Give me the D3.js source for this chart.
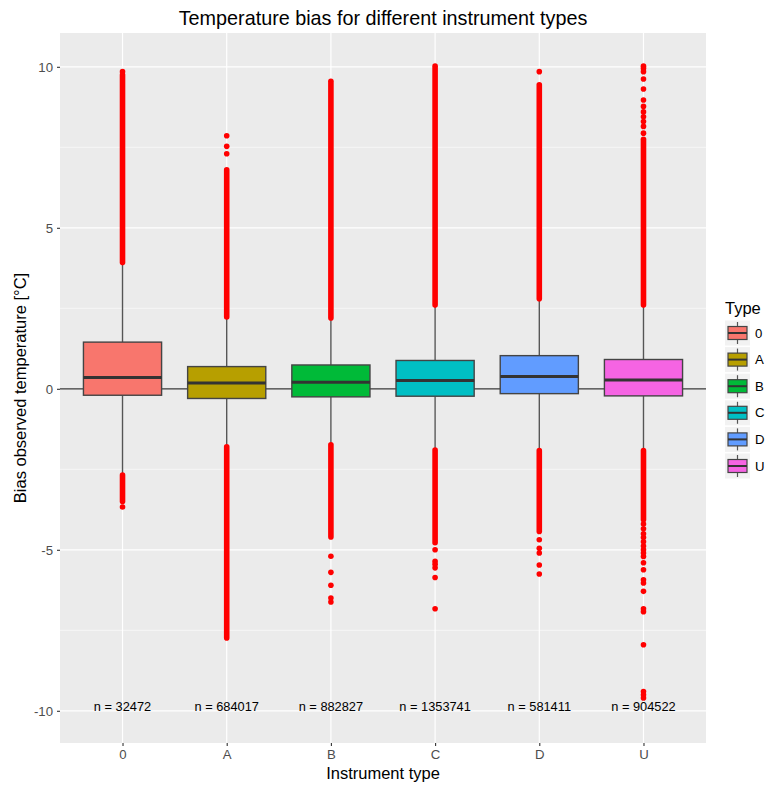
<!DOCTYPE html>
<html><head><meta charset="utf-8">
<script src="https://cdn.jsdelivr.net/npm/d3@7"></script>
<style>body{margin:0;background:#fff}svg{display:block}text{font-family:"Liberation Sans",Arial,sans-serif}</style>
</head><body>
<script>
// ---- data ----
const categories = ["0","A","B","C","D","U"];
const colors = ["#F8766D","#B79F00","#00BA38","#00BFC4","#619CFF","#F564E3"];
const q1 = [-0.20,-0.30,-0.25,-0.23,-0.15,-0.22];
const medians = [0.35,0.18,0.20,0.26,0.38,0.27];
const q3 = [1.45,0.69,0.74,0.88,1.03,0.91];
const whiskerLow = [-2.62,-1.76,-1.70,-1.87,-1.87,-1.87];
const whiskerHigh = [3.85,2.20,2.15,2.56,2.76,2.56];
const counts = ["32472","684017","882827","1353741","581411","904522"];
// dense runs of outliers [from, to] per category
const denseOutliers = [
  [[3.92,9.75],[-3.50,-2.68]],
  [[2.23,6.80],[-7.74,-1.80]],
  [[2.20,9.55],[-4.60,-1.74]],
  [[2.60,10.02],[-4.78,-1.90]],
  [[2.80,9.44],[-4.43,-1.92]],
  [[2.60,7.75],[-4.07,-1.92]]
];
// isolated outlier points per category
const sparseOutliers = [
  [9.85,-3.67],
  [7.86,7.53,7.30],
  [-5.20,-5.70,-6.10,-6.50,-6.62],
  [-5.00,-5.36,-5.45,-5.56,-5.86,-6.83],
  [9.85,-4.69,-4.95,-5.10,-5.47,-5.75],
  [7.94,8.15,8.30,8.45,8.60,8.77,8.97,9.31,9.62,9.85,9.95,10.02,-4.20,-4.35,-4.50,-4.62,-4.75,-4.88,-5.00,-5.10,-5.21,-5.40,-5.62,-5.93,-6.03,-6.29,-6.83,-6.92,-7.95,-9.40,-9.50,-9.60]
];
const yTicks = [-10,-5,0,5,10];
const yMinor = [-7.5,-2.5,2.5,7.5];
const labelPos = -10;

// ---- layout ----
const W = 766, H = 785;
const P = {left:60, right:706, top:33, bottom:743};
const FONT = '"Liberation Sans",Arial,sans-serif';
const svg = d3.select("body").append("svg").attr("width",W).attr("height",H);

const y = d3.scaleLinear().domain([-11.0, 11.05]).range([P.bottom, P.top]);
const xi = d3.scaleLinear().domain([0.4, categories.length + 0.6]).range([P.left, P.right]);
const x = c => xi(categories.indexOf(c) + 1);
const boxW = xi(1.75) - xi(1);

// panel
svg.append("rect").attr("x",P.left).attr("y",P.top).attr("width",P.right-P.left).attr("height",P.bottom-P.top).attr("fill","#EBEBEB");
const grid = svg.append("g");
yMinor.forEach(v=>grid.append("line").attr("x1",P.left).attr("x2",P.right).attr("y1",y(v)).attr("y2",y(v)).attr("stroke","#fff").attr("stroke-width",0.6));
yTicks.forEach(v=>grid.append("line").attr("x1",P.left).attr("x2",P.right).attr("y1",y(v)).attr("y2",y(v)).attr("stroke","#fff").attr("stroke-width",1.2));
categories.forEach(c=>grid.append("line").attr("x1",x(c)).attr("x2",x(c)).attr("y1",P.top).attr("y2",P.bottom).attr("stroke","#fff").attr("stroke-width",1.2));

// hline at 0
svg.append("line").attr("x1",P.left).attr("x2",P.right).attr("y1",y(0)).attr("y2",y(0)).attr("stroke","#333").attr("stroke-width",1.3);

// boxes
const g = svg.append("g");
categories.forEach((c,i)=>{
  const cx = x(c);
  g.append("line").attr("x1",cx).attr("x2",cx).attr("y1",y(q3[i])).attr("y2",y(whiskerHigh[i])).attr("stroke","#555").attr("stroke-width",1.4);
  g.append("line").attr("x1",cx).attr("x2",cx).attr("y1",y(q1[i])).attr("y2",y(whiskerLow[i])).attr("stroke","#555").attr("stroke-width",1.4);
  g.append("rect").attr("x",cx-boxW/2).attr("y",y(q3[i])).attr("width",boxW).attr("height",y(q1[i])-y(q3[i]))
    .attr("fill",colors[i]).attr("stroke","#444").attr("stroke-width",1.4);
  g.append("line").attr("x1",cx-boxW/2).attr("x2",cx+boxW/2).attr("y1",y(medians[i])).attr("y2",y(medians[i])).attr("stroke","#333").attr("stroke-width",3);
});

// outliers
const o = svg.append("g");
categories.forEach((c,i)=>{
  const cx = x(c);
  denseOutliers[i].forEach(([a,b])=>{
    o.append("line").attr("x1",cx).attr("x2",cx).attr("y1",y(a)).attr("y2",y(b))
      .attr("stroke","#FF0000").attr("stroke-width",5.6).attr("stroke-linecap","round");
  });
  sparseOutliers[i].forEach(v=>{
    o.append("circle").attr("cx",cx).attr("cy",y(v)).attr("r",2.8).attr("fill","#FF0000");
  });
});

// n labels
categories.forEach((c,i)=>{
  svg.append("text").attr("x",x(c)).attr("y",y(labelPos)).attr("text-anchor","middle")
    .attr("font-size",12.8).attr("fill","#000").text("n = " + counts[i]);
});

// axes
const ya = svg.append("g").attr("transform",`translate(${P.left},0)`)
  .call(d3.axisLeft(y).tickValues(yTicks).tickSize(3).tickPadding(4).tickFormat(d=>String(d)));
ya.select(".domain").remove();
ya.selectAll("line").attr("stroke","#333").attr("stroke-width",1.1);
ya.selectAll("text").attr("font-size",13.2).attr("fill","#4d4d4d").style("font-family",FONT);

const xband = d3.scalePoint().domain(categories).range([x(categories[0]), x(categories[categories.length-1])]);
const xa = svg.append("g").attr("transform",`translate(0,${P.bottom})`)
  .call(d3.axisBottom(xband).tickSize(3).tickPadding(4));
xa.select(".domain").remove();
xa.selectAll("line").attr("stroke","#333").attr("stroke-width",1.1);
xa.selectAll("text").attr("font-size",13.2).attr("fill","#4d4d4d").style("font-family",FONT);

// titles
svg.append("text").attr("x",(P.left+P.right)/2).attr("y",25).attr("text-anchor","middle").attr("font-size",19.8).attr("fill","#000")
  .text("Temperature bias for different instrument types");
svg.append("text").attr("x",(P.left+P.right)/2).attr("y",779).attr("text-anchor","middle").attr("font-size",16.5).attr("fill","#000")
  .text("Instrument type");
svg.append("text").attr("transform",`translate(26,${(P.top+P.bottom)/2}) rotate(-90)`).attr("text-anchor","middle").attr("font-size",16.5).attr("fill","#000")
  .text("Bias observed temperature [°C]");

// legend
const lg = svg.append("g");
lg.append("text").attr("x",725).attr("y",314).attr("font-size",16.5).attr("fill","#000").text("Type");
categories.forEach((c,i)=>{
  const cy = 333 + i*26.6;
  lg.append("rect").attr("x",725).attr("y",cy-12.5).attr("width",25).attr("height",25).attr("fill","#F2F2F2");
  lg.append("line").attr("x1",737.5).attr("x2",737.5).attr("y1",cy-11).attr("y2",cy+11).attr("stroke","#555").attr("stroke-width",1.2);
  lg.append("rect").attr("x",728).attr("y",cy-6.5).attr("width",19).attr("height",13).attr("fill",colors[i]).attr("stroke","#444").attr("stroke-width",1.2);
  lg.append("line").attr("x1",728).attr("x2",747).attr("y1",cy).attr("y2",cy).attr("stroke","#333").attr("stroke-width",2);
  lg.append("text").attr("x",755).attr("y",cy+4.5).attr("font-size",13.2).attr("fill","#000").text(c);
});
</script>
</body></html>
